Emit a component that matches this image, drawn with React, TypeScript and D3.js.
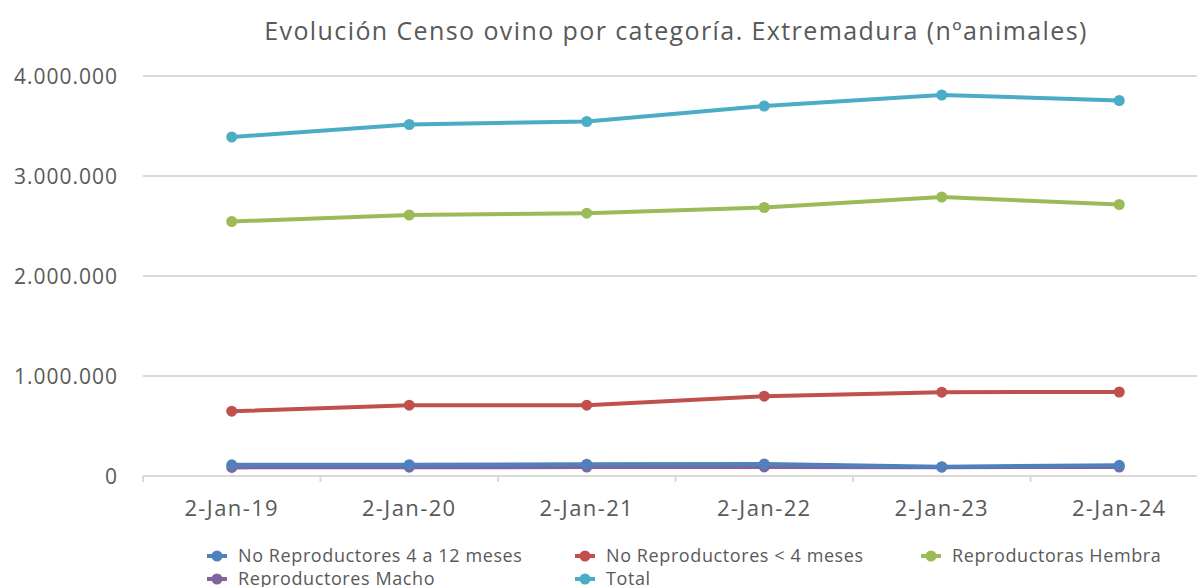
import React, { useEffect, useRef } from 'react';
import * as d3 from 'd3';

const categories = ['2-Jan-19', '2-Jan-20', '2-Jan-21', '2-Jan-22', '2-Jan-23', '2-Jan-24'];

const noRepro4a12 = [112000, 113000, 118000, 120000, 93000, 107000];
const noReproMenos4 = [648000, 708000, 708000, 798000, 838000, 840000];
const reproHembra = [2545000, 2610000, 2628000, 2685000, 2790000, 2715000];
const reproMacho = [86000, 88000, 89000, 91000, 88000, 90000];
const total = [3390000, 3515000, 3545000, 3700000, 3810000, 3755000];

const yTicks = [0, 1000000, 2000000, 3000000, 4000000];

const series = [
  { name: 'No Reproductores 4 a 12 meses', values: noRepro4a12, color: '#4F81BD' },
  { name: 'No Reproductores < 4 meses', values: noReproMenos4, color: '#C0504D' },
  { name: 'Reproductoras Hembra', values: reproHembra, color: '#9BBB59' },
  { name: 'Reproductores Macho', values: reproMacho, color: '#8064A2' },
  { name: 'Total', values: total, color: '#4BACC6' },
];

const W = 1197;
const H = 587;
const FONT = "'Open Sans', 'Noto Sans', sans-serif";

const App = () => {
  const ref = useRef<SVGSVGElement>(null);

  useEffect(() => {
    const svg = d3.select(ref.current);
    svg.selectAll('*').remove();

    const x = d3.scaleBand<string>().domain(categories).range([143, 1208]).padding(0);
    const y = d3.scaleLinear().domain([0, 4000000]).range([476, 76]);
    const fmt = (v: number) => d3.format(',')(v).replace(/,/g, '.');

    // title
    svg.append('text')
      .attr('x', 676).attr('y', 40)
      .attr('text-anchor', 'middle')
      .attr('font-family', FONT).attr('font-size', 25)
      .attr('letter-spacing', 1.4)
      .attr('fill', '#595959')
      .text('Evolución Censo ovino por categoría. Extremadura (nºanimales)');

    // gridlines
    svg.append('g').selectAll('line')
      .data(yTicks.filter(d => d > 0))
      .join('line')
      .attr('x1', 143).attr('x2', W)
      .attr('y1', d => y(d)).attr('y2', d => y(d))
      .attr('stroke', '#d9d9d9').attr('stroke-width', 2);

    // y labels
    svg.append('g').selectAll('text')
      .data(yTicks)
      .join('text')
      .attr('x', 118).attr('y', d => y(d) + 8)
      .attr('text-anchor', 'end')
      .attr('font-family', FONT).attr('font-size', 21)
      .attr('letter-spacing', 1)
      .attr('fill', '#595959')
      .text(d => fmt(d));

    // x axis
    const xAxis = svg.append('g');
    xAxis.append('line')
      .attr('x1', 143).attr('x2', W)
      .attr('y1', y(0)).attr('y2', y(0))
      .attr('stroke', '#d9d9d9').attr('stroke-width', 2);
    xAxis.selectAll('line.tick')
      .data(categories)
      .join('line')
      .attr('class', 'tick')
      .attr('x1', d => x(d)!).attr('x2', d => x(d)!)
      .attr('y1', y(0)).attr('y2', y(0) + 6)
      .attr('stroke', '#d9d9d9').attr('stroke-width', 2);
    xAxis.selectAll('text')
      .data(categories)
      .join('text')
      .attr('x', d => x(d)! + x.bandwidth() / 2)
      .attr('y', 516)
      .attr('text-anchor', 'middle')
      .attr('font-family', FONT).attr('font-size', 22)
      .attr('letter-spacing', 1.4)
      .attr('fill', '#595959')
      .text(d => d);

    const cx = (i: number) => x(categories[i])! + x.bandwidth() / 2;
    const line = d3.line<number>().x((d, i) => cx(i)).y(d => y(d));

    // draw reversed so the first series ends on top
    const g = svg.append('g');
    [...series].reverse().forEach(s => {
      const sg = g.append('g');
      sg.append('path')
        .datum(s.values)
        .attr('fill', 'none')
        .attr('stroke', s.color)
        .attr('stroke-width', 4)
        .attr('stroke-linejoin', 'round')
        .attr('d', line);
      sg.selectAll('circle')
        .data(s.values)
        .join('circle')
        .attr('cx', (d, i) => cx(i))
        .attr('cy', d => y(d))
        .attr('r', 5.5)
        .attr('fill', s.color);
    });

    // legend
    const legendPos = [
      [217, 556], [585, 556], [931, 556],
      [217, 579], [585, 579],
    ];
    const lg = svg.append('g');
    series.forEach((s, k) => {
      const [lx, ly] = legendPos[k];
      lg.append('line')
        .attr('x1', lx - 10).attr('x2', lx + 10)
        .attr('y1', ly).attr('y2', ly)
        .attr('stroke', s.color).attr('stroke-width', 4);
      lg.append('circle')
        .attr('cx', lx).attr('cy', ly).attr('r', 5.5)
        .attr('fill', s.color);
      lg.append('text')
        .attr('x', lx + 21).attr('y', ly + 6)
        .attr('font-family', FONT).attr('font-size', 18)
        .attr('letter-spacing', 0.6)
        .attr('fill', '#595959')
        .text(s.name);
    });
  }, []);

  return (
    <svg
      ref={ref}
      width={W}
      height={H}
      style={{ position: 'absolute', left: 0, top: 0, background: '#fff' }}
    />
  );
};

export default App;
